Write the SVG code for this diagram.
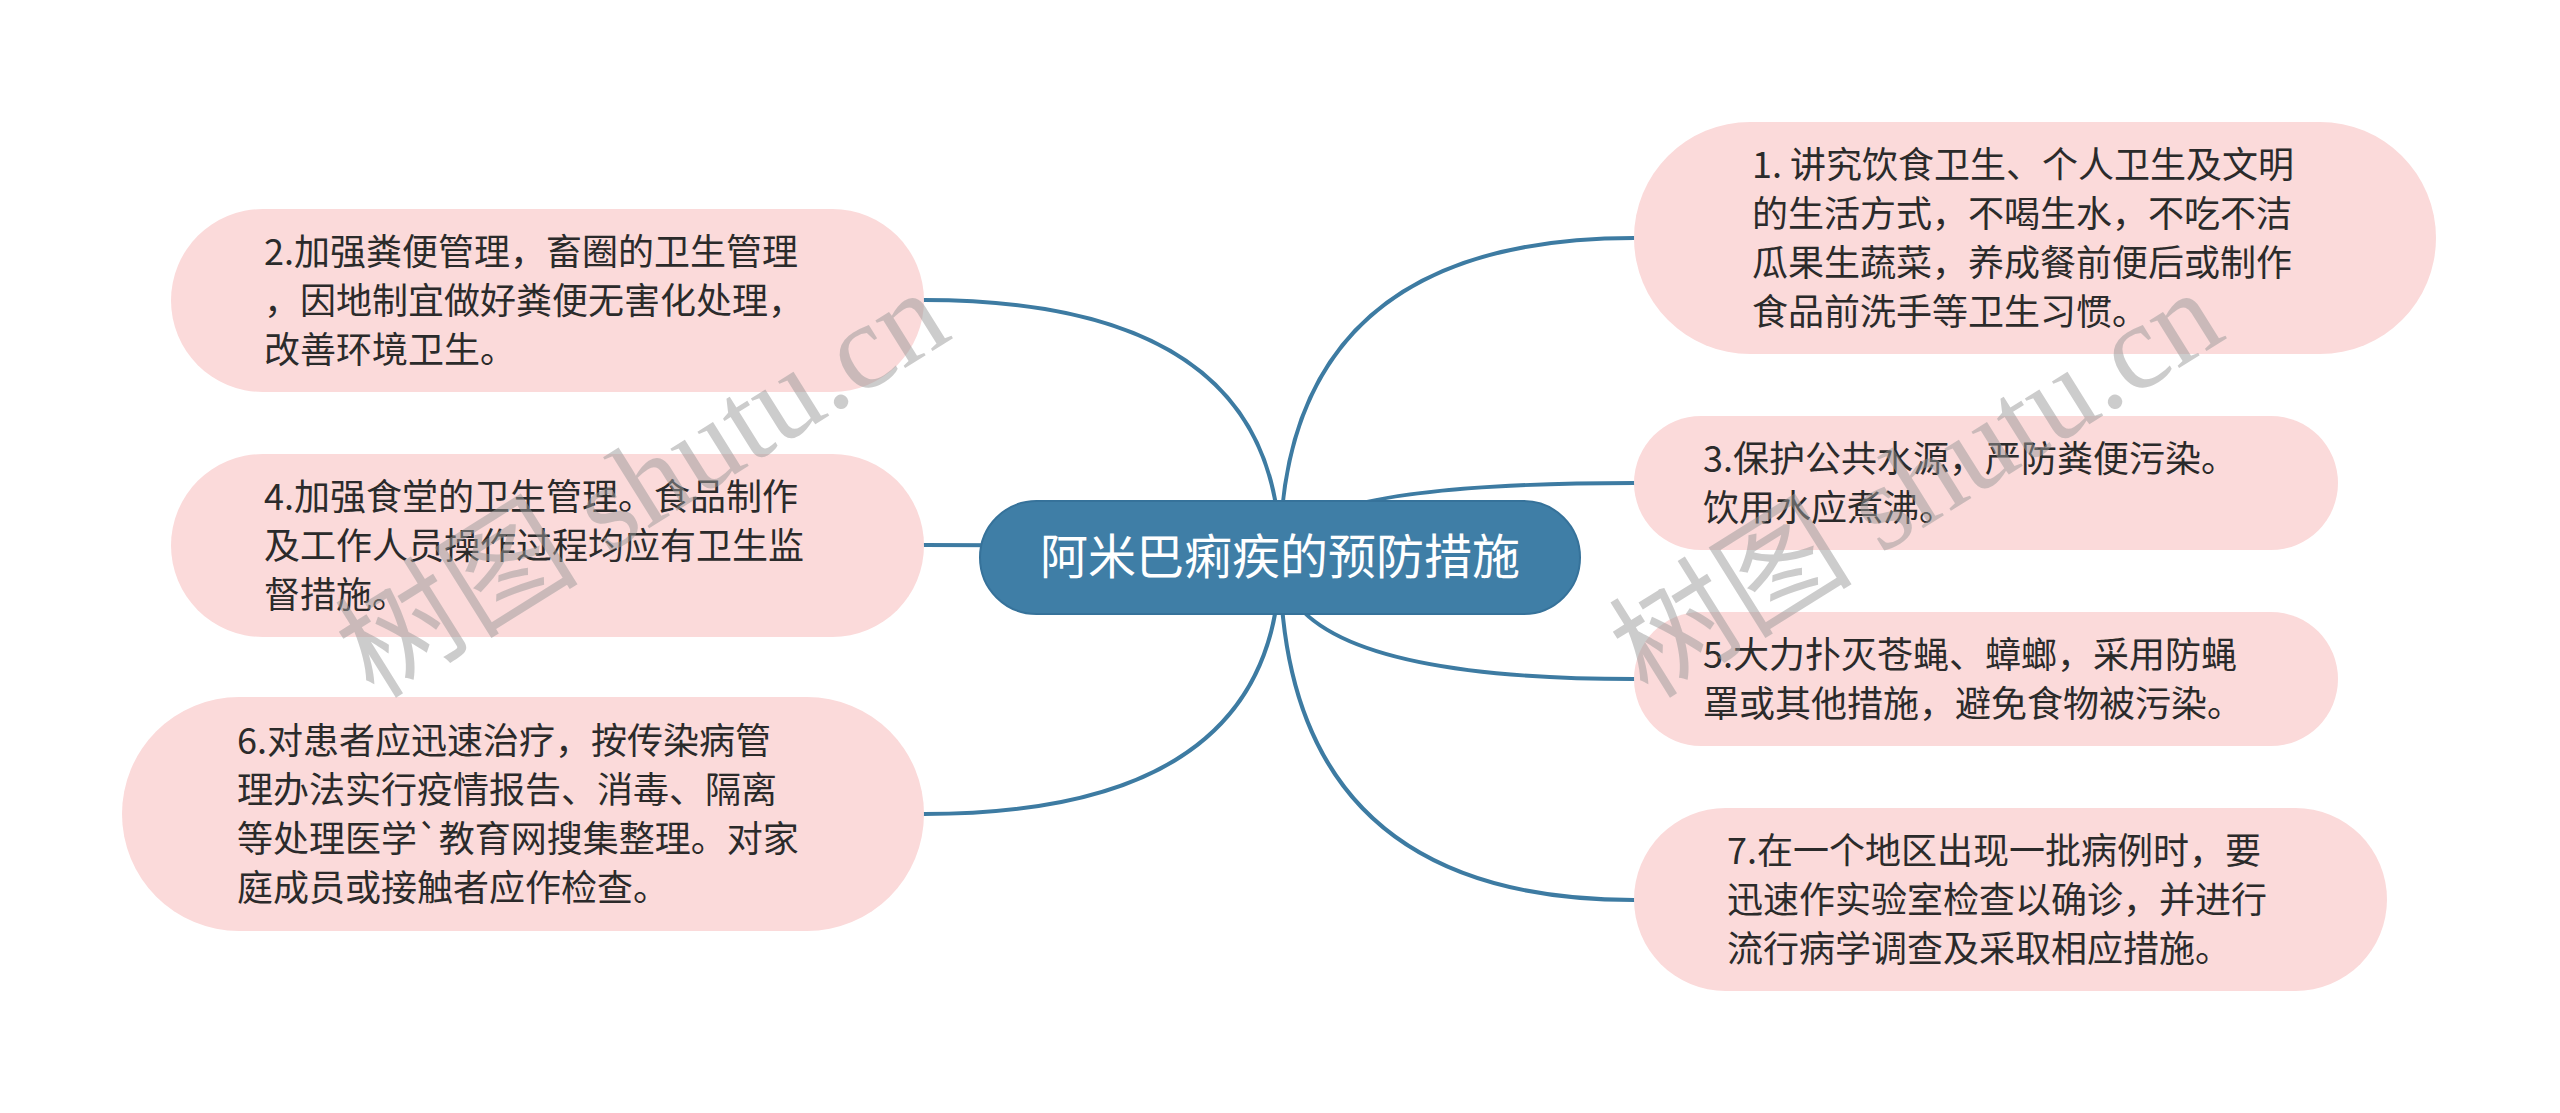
<svg xmlns="http://www.w3.org/2000/svg" width="2560" height="1113" viewBox="0 0 2560 1113">
<style>
.conn{fill:none;stroke:#3d7ba2;stroke-width:4;stroke-linecap:round}
.leaf{fill:#fbdada}
.root{fill:#3f7ea6;stroke:#36729a;stroke-width:2}
.t{font-family:"Noto Sans CJK SC","Microsoft YaHei",sans-serif;font-size:36px;fill:#2b2b2b}
.rt{font-family:"Noto Sans CJK SC","Microsoft YaHei",sans-serif;font-size:48px;fill:#ffffff}
.wm{font-family:"Liberation Serif","Noto Sans CJK SC",serif;font-size:122px;fill:#9a9a9a;opacity:0.5}
</style>
<rect width="2560" height="1113" fill="#ffffff"/>
<g id="connectors">
<path class="conn" d="M1280,557 Q1280,300 924,300"/>
<path class="conn" d="M1280,557 Q1280,545 924,545"/>
<path class="conn" d="M1280,557 Q1280,814 924,814"/>
<path class="conn" d="M1280,557 Q1280,238 1634,238"/>
<path class="conn" d="M1280,557 Q1280,483 1634,483"/>
<path class="conn" d="M1280,557 Q1280,679 1634,679"/>
<path class="conn" d="M1280,557 Q1280,900 1634,900"/>
</g>
<g id="root">
<rect class="root" x="980" y="501" width="600" height="113" rx="56.5"/>
<text class="rt" x="1280" y="574" text-anchor="middle">阿米巴痢疾的预防措施</text>
</g>
<g id="node2">
<rect class="leaf" x="171" y="209" width="753" height="183" rx="91.5"/>
<text class="t" x="264" y="265">2.加强粪便管理，畜圈的卫生管理</text>
<text class="t" x="264" y="314">，因地制宜做好粪便无害化处理，</text>
<text class="t" x="264" y="363">改善环境卫生。</text>
</g>
<g id="node4">
<rect class="leaf" x="171" y="454" width="753" height="183" rx="91.5"/>
<text class="t" x="264" y="510">4.加强食堂的卫生管理。食品制作</text>
<text class="t" x="264" y="559">及工作人员操作过程均应有卫生监</text>
<text class="t" x="264" y="608">督措施。</text>
</g>
<g id="node6">
<rect class="leaf" x="122" y="697" width="802" height="234" rx="117"/>
<text class="t" x="237" y="754">6.对患者应迅速治疗，按传染病管</text>
<text class="t" x="237" y="803">理办法实行疫情报告、消毒、隔离</text>
<text class="t" x="237" y="852">等处理医学`教育网搜集整理。对家</text>
<text class="t" x="237" y="901">庭成员或接触者应作检查。</text>
</g>
<g id="node1">
<rect class="leaf" x="1634" y="122" width="802" height="232" rx="116"/>
<text class="t" x="1752" y="178">1. 讲究饮食卫生、个人卫生及文明</text>
<text class="t" x="1752" y="227">的生活方式，不喝生水，不吃不洁</text>
<text class="t" x="1752" y="276">瓜果生蔬菜，养成餐前便后或制作</text>
<text class="t" x="1752" y="325">食品前洗手等卫生习惯。</text>
</g>
<g id="node3">
<rect class="leaf" x="1634" y="416" width="704" height="134" rx="67"/>
<text class="t" x="1703" y="472">3.保护公共水源，严防粪便污染。</text>
<text class="t" x="1703" y="521">饮用水应煮沸。</text>
</g>
<g id="node5">
<rect class="leaf" x="1634" y="612" width="704" height="134" rx="67"/>
<text class="t" x="1703" y="668">5.大力扑灭苍蝇、蟑螂，采用防蝇</text>
<text class="t" x="1703" y="717">罩或其他措施，避免食物被污染。</text>
</g>
<g id="node7">
<rect class="leaf" x="1634" y="808" width="753" height="183" rx="91.5"/>
<text class="t" x="1727" y="864">7.在一个地区出现一批病例时，要</text>
<text class="t" x="1727" y="913">迅速作实验室检查以确诊，并进行</text>
<text class="t" x="1727" y="962">流行病学调查及采取相应措施。</text>
</g>
<g id="watermarks">
<text class="wm" transform="translate(374,700) rotate(-32)">树图 shutu.cn</text>
<text class="wm" transform="translate(1648,700) rotate(-32)">树图 shutu.cn</text>
</g>
</svg>
